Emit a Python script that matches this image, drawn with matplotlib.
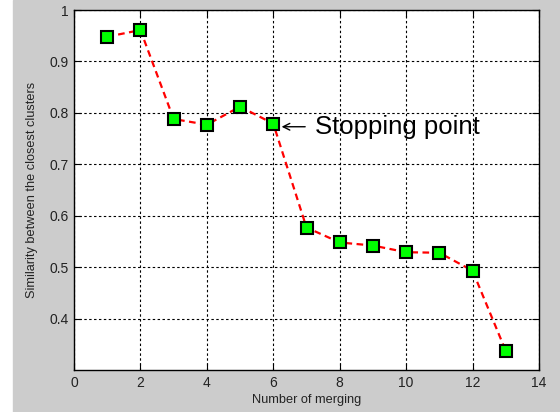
import numpy as np
import matplotlib
matplotlib.use('Agg')
import matplotlib.pyplot as plt
from matplotlib.patches import Rectangle

plt.rcParams['font.family'] = ['Liberation Sans', 'DejaVu Sans']

# data
merges = [1, 2, 3, 4, 5, 6, 7, 8, 9, 10, 11, 12, 13]
similarity = [0.948, 0.961, 0.788, 0.777, 0.812, 0.779, 0.577,
              0.548, 0.542, 0.529, 0.528, 0.493, 0.337]
xticks = [0, 2, 4, 6, 8, 10, 12, 14]
yticks = [0.4, 0.5, 0.6, 0.7, 0.8, 0.9, 1.0]
yticklabels = ['0.4', '0.5', '0.6', '0.7', '0.8', '0.9', '1']

fig = plt.figure(figsize=(5.6, 4.12), dpi=100)
fig.patch.set_facecolor('white')
# MATLAB-ish grey figure area (white strip on the far left)
fig.patches.append(Rectangle((13 / 560, 0), 1 - 13 / 560, 1,
                             transform=fig.transFigure, color='#cccccc', zorder=-10))

ax = fig.add_axes([74 / 560, 42 / 412, 465 / 560, 360 / 412])
ax.set_facecolor('white')

ax.plot(merges, similarity, color='red', linestyle=(0, (3, 2)), lw=1.6,
        marker='s', markersize=8, markerfacecolor='#00ff00',
        markeredgecolor='black', markeredgewidth=1.5, zorder=3)

# annotation: thin arrow pointing at the stopping point, then the label
ax.annotate('', xy=(6.25, 0.773), xytext=(6.96, 0.773),
            arrowprops=dict(arrowstyle='->', color='black', lw=1.0,
                            shrinkA=0, shrinkB=0, mutation_scale=12))
ax.text(7.26, 0.759, 'Stopping point', fontsize=18.5, va='baseline',
        ha='left', color='black')

ax.set_xlim(0, 14)
ax.set_ylim(0.3, 1.0)
ax.set_xticks(xticks)
ax.set_yticks(yticks)
ax.set_yticklabels(yticklabels)

ax.grid(True, color='black', linestyle=(0, (2.2, 2.2)), lw=0.8)
ax.set_axisbelow(True)

ax.tick_params(direction='in', length=5, width=0.8, top=True, right=True,
               labelsize=10, labelcolor='#222222', pad=4)
for s in ax.spines.values():
    s.set_linewidth(1.0)
    s.set_color('black')

ax.set_xlabel('Number of merging', fontsize=9.2, color='#222222')
ax.set_ylabel('Similarity between the closest clusters', fontsize=9.2, color='#222222')
ax.xaxis.set_label_coords(0.5, -(400 - 370) / 360)
ax.xaxis.label.set_va('center')
ax.yaxis.set_label_coords(-(74 - 32) / 465, 0.5)
ax.yaxis.label.set_va('center')

plt.savefig('out.png', dpi=100, facecolor=fig.get_facecolor())
